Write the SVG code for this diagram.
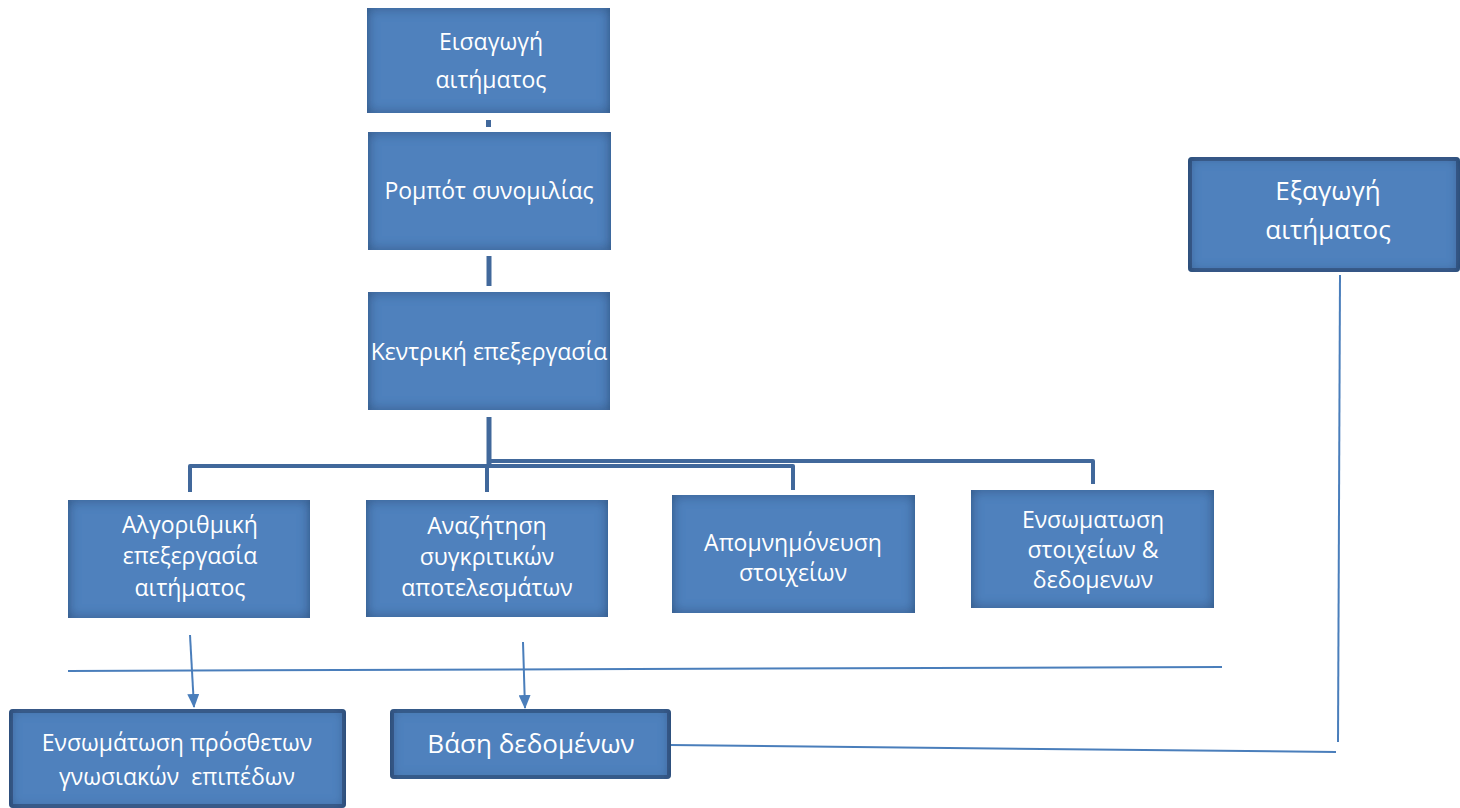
<svg xmlns="http://www.w3.org/2000/svg" width="1460" height="808" viewBox="0 0 1460 808">
<defs>
<filter id="inner" x="-5%" y="-5%" width="110%" height="110%">
<feFlood flood-color="#1d385e" flood-opacity="0.9" result="f"/>
<feComposite in="f" in2="SourceAlpha" operator="out" result="o"/>
<feGaussianBlur in="o" stdDeviation="6" result="b"/>
<feComposite in="b" in2="SourceAlpha" operator="in" result="s"/>
<feMerge><feMergeNode in="SourceGraphic"/><feMergeNode in="s"/></feMerge>
</filter>
<marker id="arr" markerWidth="14" markerHeight="12" refX="13" refY="6" orient="auto" markerUnits="userSpaceOnUse" viewBox="0 0 14 12">
<path d="M0,0 L14,6 L0,12 z" fill="#4a7ebb"/>
</marker>
</defs>
<style>
.box{fill:#4f81bd;filter:url(#inner)}
.frame{fill:#4f81bd;stroke:#3b5f8f;stroke-width:4;filter:url(#inner)}
text{font-family:"Open Sans","Liberation Sans",sans-serif;font-size:23px;fill:#ffffff;text-anchor:middle}
.big{font-size:26px}
.thick{fill:none;stroke:#41689b;stroke-width:5;stroke-linejoin:round}
.mid{fill:none;stroke:#41689b;stroke-width:4;stroke-linejoin:round}
.thin{fill:none;stroke:#4a7ebb;stroke-width:2}
</style>
<rect width="1460" height="808" fill="#ffffff"/>
<g id="connectors">
<rect x="486" y="120" width="5" height="7" fill="#41689b"/>
<line class="thick" x1="489" y1="256" x2="489" y2="286"/>
<line class="thick" x1="489" y1="417" x2="489" y2="468"/>
<path class="mid" d="M489,466 H190 V492"/>
<path class="mid" d="M487,466 V492"/>
<path class="mid" d="M489,466 H793 V490"/>
<path class="mid" d="M489,461 H1093 V484"/>
<line class="thin" x1="68" y1="671" x2="1222" y2="667"/>
<line class="thin" x1="190" y1="635" x2="194" y2="707" marker-end="url(#arr)"/>
<line class="thin" x1="523" y1="642" x2="525" y2="708" marker-end="url(#arr)"/>
<line class="thin" x1="670" y1="745" x2="1336" y2="752"/>
<line class="thin" x1="1340" y1="275" x2="1338" y2="742"/>
</g>
<g id="n1"><rect class="box" x="367" y="8" width="243" height="105"/><text x="491" y="50">Εισαγωγή</text><text x="491" y="88">αιτήματος</text></g>
<g id="n2"><rect class="box" x="368" y="132" width="243" height="118"/><text x="489" y="199">Ρομπότ συνομιλίας</text></g>
<g id="n3"><rect class="box" x="368" y="292" width="242" height="118"/><text x="489" y="360">Κεντρική επεξεργασία</text></g>
<g id="n4"><rect class="box" x="68" y="500" width="242" height="118"/><text x="190" y="533">Αλγοριθμική</text><text x="190" y="564">επεξεργασία</text><text x="190" y="596">αιτήματος</text></g>
<g id="n5"><rect class="box" x="366" y="500" width="242" height="117"/><text x="487" y="534">Αναζήτηση</text><text x="487" y="565">συγκριτικών</text><text x="487" y="596">αποτελεσμάτων</text></g>
<g id="n6"><rect class="box" x="672" y="495" width="243" height="118"/><text x="793" y="551">Απομνημόνευση</text><text x="793" y="581">στοιχείων</text></g>
<g id="n7"><rect class="box" x="971" y="490" width="243" height="118"/><text x="1093" y="528">Ενσωματωση</text><text x="1093" y="558">στοιχείων &amp;</text><text x="1093" y="588">δεδομενων</text></g>
<g id="n8"><rect class="frame" x="1190" y="159" width="268" height="111" rx="2"/><text class="big" x="1328" y="200">Εξαγωγή</text><text class="big" x="1328" y="239">αιτήματος</text></g>
<g id="n9"><rect class="frame" x="11" y="711" width="333" height="95" rx="2"/><text x="177" y="751">Ενσωμάτωση πρόσθετων</text><text x="177" y="785" xml:space="preserve">γνωσιακών  επιπέδων</text></g>
<g id="n10"><rect class="frame" x="392" y="711" width="277" height="66" rx="2"/><text class="big" x="531" y="753">Βάση δεδομένων</text></g>
</svg>
